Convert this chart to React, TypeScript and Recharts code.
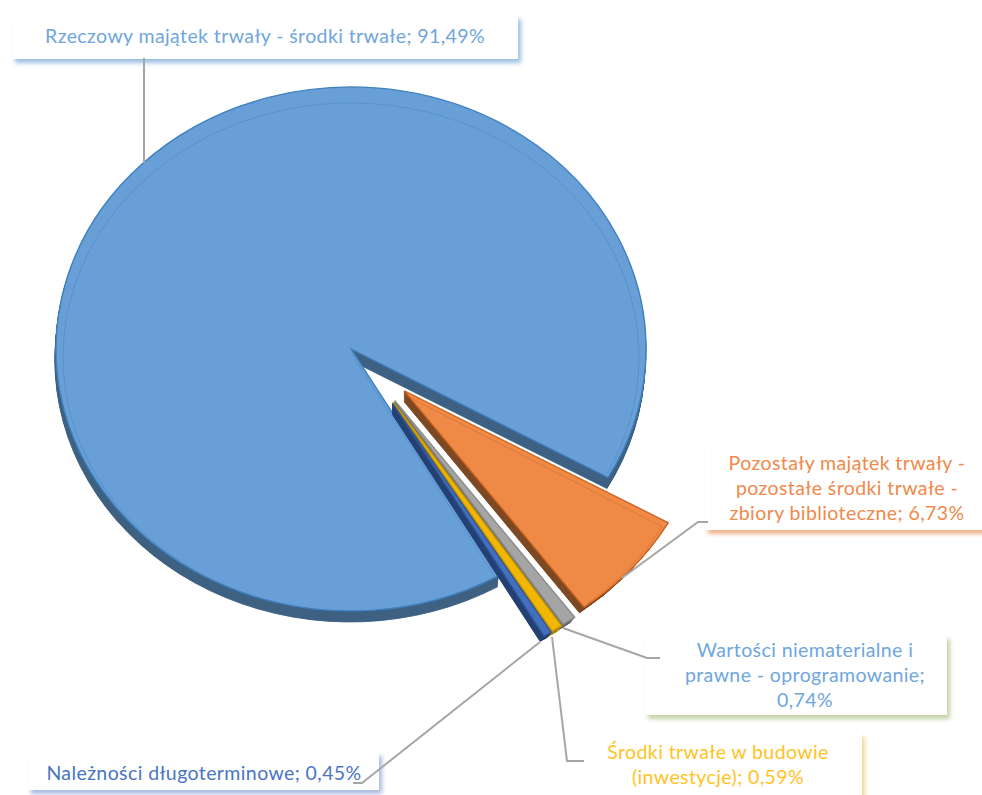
import React from 'react';
import { PieChart, Pie, Sector } from 'recharts';

const CATEGORIES = [
  'Rzeczowy majątek trwały - środki trwałe',
  'Pozostały majątek trwały - pozostałe środki trwałe - zbiory biblioteczne',
  'Wartości niematerialne i prawne - oprogramowanie',
  'Środki trwałe w budowie (inwestycje)',
  'Należności długoterminowe',
];
const SHARES = [91.49, 6.73, 0.74, 0.59, 0.45];

const FACE_COLORS = ['#689fd6', '#ef8a46', '#a5a5a5', '#f2b705', '#4270bd'];
const EDGE_COLORS = ['#3f80bf', '#c9601c', '#8a8a8a', '#c99700', '#2f5597'];
const SIDE_COLORS = ['#3f6283', '#7d4a25', '#666666', '#a8830a', '#254274'];
const TEXT_COLORS = ['#6fa6dd', '#f0894a', '#6fa6dd', '#ffc31f', '#4a74c2'];
const SHADOW_COLORS = ['#9dbfe3', '#eeb48c', '#c3d2a6', '#f3d998', '#a9bbe0'];

const CX = 351;
const CY = 349;
const RADIUS = 295;
const SQUASH = 0.888;
const DEPTH = [11, 10, 9, 8, 7, 6, 5, 4, 3, 2, 1];
const EXPLODE = [0, 71, 71, 71, 71];
const NUDGE_X = [0, 0, 3, 4, 5];
const GROW = [0, 8, 8, 8, 8];

// label boxes: x, y, w, h, text centre, wrap length, first baseline, leader polyline
const BOXES = [
  { x: 12, y: 15, w: 506, h: 44, tx: 265, wrap: 60, base: 43, leader: '144,58 144,163' },
  { x: 705, y: 443, w: 290, h: 87, tx: 847, wrap: 26, base: 470, leader: '708,522 698,522 622,578' },
  { x: 645, y: 635, w: 302, h: 80, tx: 805, wrap: 24, base: 657, leader: '660,658 647,658 563,628' },
  { x: 573, y: 733, w: 289, h: 70, tx: 718, wrap: 23, base: 759, leader: '584,761 567,761 552,637' },
  { x: 28, y: 752, w: 351, h: 38, tx: 204, wrap: 40, base: 780, leader: '353,783 362,783 540,642' },
];

const LINE_GAP = 25;

const data = CATEGORIES.map((name, i) => ({ name, value: SHARES[i] }));

function wrapText(text: string, max: number) {
  const lines: string[] = [];
  let cur = '';
  text.split(' ').forEach((w) => {
    if (cur && (cur + ' ' + w).length > max) {
      lines.push(cur);
      cur = w;
    } else {
      cur = cur ? cur + ' ' + w : w;
    }
  });
  lines.push(cur);
  return lines;
}

function bevelPath(cx: number, cy: number, r: number, start: number, end: number) {
  const ky = 254 / 288;
  const sx = cx + r * Math.cos((start * Math.PI) / 180);
  const sy = cy + 8 - r * ky * Math.sin((start * Math.PI) / 180);
  const ex = cx + r * Math.cos(((end + 2) * Math.PI) / 180);
  const ey = cy + 8 - r * ky * Math.sin(((end + 2) * Math.PI) / 180);
  const large = Math.abs(end - start) > 180 ? 1 : 0;
  return `M${cx},${cy + 4} L${sx},${sy} A${r},${r * ky} 0 ${large} 1 ${ex},${ey}`;
}

function SliceShape(props: any) {
  const { cx, cy, outerRadius, startAngle, endAngle, index } = props;
  const mid = (((startAngle + endAngle) / 2) * Math.PI) / 180;
  const dx = EXPLODE[index] * Math.cos(mid) + NUDGE_X[index];
  const dy = -EXPLODE[index] * Math.sin(mid) * SQUASH;
  const r = outerRadius + GROW[index];
  const squash = `translate(${cx},${cy}) scale(1,${SQUASH}) translate(${-cx},${-cy})`;
  const common = { cx, cy, innerRadius: 0, startAngle, endAngle };
  return (
    <g transform={`translate(${dx},${dy})`}>
      {DEPTH.map((d) => (
        <g key={d} transform={`translate(${index === 0 ? -0.1 * d : 0},${d}) ${squash}`}>
          <Sector
            {...common}
            outerRadius={index === 0 ? r : r - d * 0.7}
            fill={SIDE_COLORS[index]}
            stroke={SIDE_COLORS[index]}
            strokeWidth={1}
          />
        </g>
      ))}
      <g transform={squash}>
        <Sector {...common} outerRadius={r} fill={FACE_COLORS[index]} stroke={EDGE_COLORS[index]} strokeWidth={1.4} />
      </g>
      {index < 2 && (
        <path
          d={bevelPath(cx, cy, r - 7, startAngle, endAngle)}
          fill="none"
          stroke={EDGE_COLORS[index]}
          strokeOpacity={0.4}
          strokeWidth={1}
        />
      )}
    </g>
  );
}

function SliceLabel(props: any) {
  const { index } = props;
  const box = BOXES[index];
  const pct = SHARES[index].toFixed(2).replace('.', ',');
  const lines = wrapText(`${CATEGORIES[index]}; ${pct}%`, box.wrap);
  return (
    <g>
      <rect
        x={box.x}
        y={box.y}
        width={box.w}
        height={box.h}
        fill="#ffffff"
        style={{ filter: `drop-shadow(3px 4px 2px ${SHADOW_COLORS[index]})` }}
      />
      <polyline points={box.leader} fill="none" stroke="#a6a6a6" strokeWidth={2} />
      {lines.map((line, i) => (
        <text
          key={i}
          x={box.tx}
          y={box.base + i * LINE_GAP}
          textAnchor="middle"
          fontFamily="Lato, sans-serif"
          fontSize={19.5}
          letterSpacing={0.4}
          fill={TEXT_COLORS[index]}
        >
          {line}
        </text>
      ))}
    </g>
  );
}

export default function App() {
  return (
    <div style={{ position: 'absolute', left: 0, top: 0, width: 982, height: 795, overflow: 'hidden', background: '#fff' }}>
      <PieChart width={982} height={795} margin={{ top: 0, right: 0, bottom: 0, left: 0 }}>
        <Pie
          data={data}
          dataKey="value"
          nameKey="name"
          cx={CX}
          cy={CY}
          innerRadius={0}
          outerRadius={RADIUS}
          startAngle={-60}
          endAngle={-420}
          stroke="none"
          shape={SliceShape}
          label={SliceLabel}
          labelLine={false}
          isAnimationActive={false}
        />
      </PieChart>
    </div>
  );
}
